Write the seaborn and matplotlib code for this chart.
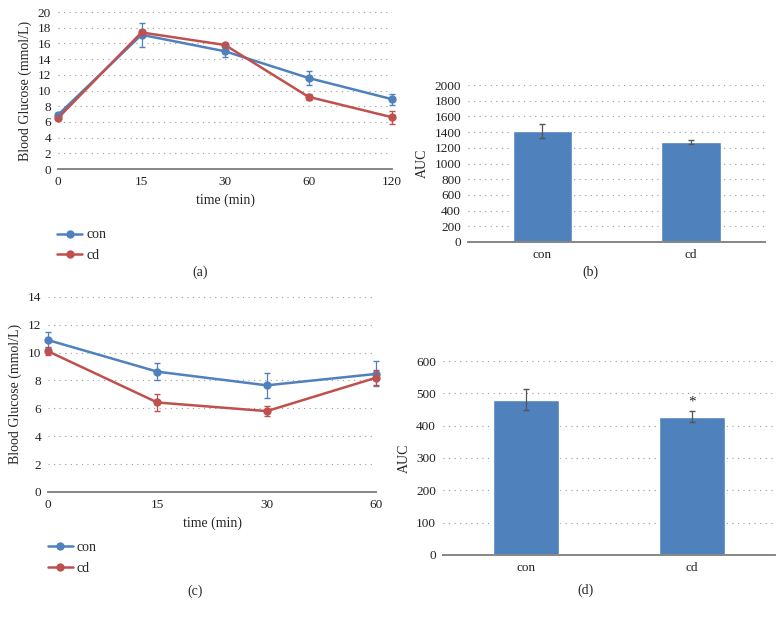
import matplotlib
matplotlib.use('Agg')
import matplotlib.pyplot as plt
import seaborn as sns
import pandas as pd

# data
ogtt_time = ['0', '15', '30', '60', '120']
ogtt_con = [6.9, 17.1, 15.0, 11.6, 8.9]
ogtt_con_err = [0.3, 1.5, 0.7, 0.9, 0.7]
ogtt_cd = [6.5, 17.4, 15.8, 9.2, 6.6]
ogtt_cd_err = [0.3, 0.3, 0.3, 0.4, 0.8]

itt_time = ['0', '15', '30', '60']
itt_con = [10.9, 8.63, 7.65, 8.47]
itt_con_err = [0.6, 0.6, 0.9, 0.9]
itt_cd = [10.1, 6.42, 5.8, 8.2]
itt_cd_err = [0.3, 0.6, 0.35, 0.55]

groups = ['con', 'cd']
auc_ogtt = [1415, 1271]
auc_ogtt_err = [90, 25]
auc_itt = [480, 427]
auc_itt_err = [33, 17]

BLUE = '#4F81BD'
RED = '#C0504D'
AXIS_GRAY = '#868686'

sns.set_theme(style='white')
plt.rcParams['font.family'] = ['Liberation Serif', 'DejaVu Serif']
plt.rcParams['font.size'] = 9.5

fig = plt.figure(figsize=(7.84, 6.17), dpi=100)


def style_axes(ax, ymax, ystep):
    for s in ['top', 'right', 'left']:
        ax.spines[s].set_visible(False)
    ax.spines['bottom'].set_color(AXIS_GRAY)
    ax.spines['bottom'].set_linewidth(1.4)
    ax.set_ylim(0, ymax)
    ax.set_yticks(range(0, ymax + 1, ystep))
    ax.yaxis.grid(True, color='#9a9a9a', linestyle=(0, (1, 4)), linewidth=0.8)
    ax.set_axisbelow(True)
    ax.tick_params(axis='both', length=0, labelsize=9.5, colors='#222222', pad=5)


def line_panel(rect, times, con, con_err, cd, cd_err, ymax, ystep, legend_xy):
    ax = fig.add_axes(rect)
    df = pd.DataFrame({'time': times * 2,
                       'glucose': con + cd,
                       'group': ['con'] * len(times) + ['cd'] * len(times)})
    sns.lineplot(data=df, x='time', y='glucose', hue='group', sort=False,
                 palette={'con': BLUE, 'cd': RED}, marker='o', markersize=6,
                 markeredgewidth=0, linewidth=1.8, ax=ax)
    pos = range(len(times))
    e1 = ax.errorbar(pos, con, yerr=con_err, fmt='none', ecolor=BLUE, elinewidth=0.9, capsize=2.5)
    e2 = ax.errorbar(pos, cd, yerr=cd_err, fmt='none', ecolor=RED, elinewidth=0.9, capsize=2.5)
    for ln in ax.lines:
        ln.set_clip_on(False)
    for eb in (e1, e2):
        for part in eb.lines[1] + eb.lines[2]:
            part.set_clip_on(False)
    style_axes(ax, ymax, ystep)
    ax.set_xlim(0, len(times) - 1)
    ax.set_xlabel('time (min)', fontsize=10)
    ax.set_ylabel('Blood Glucose (mmol/L)', fontsize=10)
    h, l = ax.get_legend_handles_labels()
    ax.legend(h, l, loc='upper left', bbox_to_anchor=legend_xy, bbox_transform=fig.transFigure,
              frameon=False, fontsize=10, handlelength=1.8, handletextpad=0.3, labelspacing=0.55)
    return ax


def bar_panel(rect, values, errs, ymax, ystep):
    ax = fig.add_axes(rect)
    sns.barplot(x=groups, y=values, color=BLUE, saturation=1, width=0.4, ax=ax)
    centers = [p.get_x() + p.get_width() / 2 for p in ax.patches]
    ax.errorbar(centers, values, yerr=errs, fmt='none', ecolor='#555555', elinewidth=0.9, capsize=2.5)
    style_axes(ax, ymax, ystep)
    ax.set_xlim(-0.5, len(groups) - 0.5)
    ax.set_ylabel('AUC', fontsize=10)
    return ax, centers


# (a)
ax_a = line_panel([0.074, 0.726, 0.426, 0.2545], ogtt_time, ogtt_con, ogtt_con_err,
                  ogtt_cd, ogtt_cd_err, 20, 2, (0.057, 0.65))
ax_a.yaxis.labelpad = 4

# (b)
ax_b, _ = bar_panel([0.597, 0.608, 0.379, 0.254], auc_ogtt, auc_ogtt_err, 2000, 200)

# (c)
ax_c = line_panel([0.061, 0.2026, 0.419, 0.3164], itt_time, itt_con, itt_con_err,
                  itt_cd, itt_cd_err, 14, 2, (0.045, 0.143))

# (d)
ax_d, centers_d = bar_panel([0.565, 0.1005, 0.4235, 0.3144], auc_itt, auc_itt_err, 600, 100)
ax_d.text(centers_d[1], auc_itt[1] + auc_itt_err[1] + 8, '*', ha='center', va='bottom', fontsize=11)

for label, x, y in [('(a)', 0.255, 0.558), ('(b)', 0.753, 0.558),
                    ('(c)', 0.249, 0.041), ('(d)', 0.747, 0.044)]:
    fig.text(x, y, label, ha='center', va='center', fontsize=10)

fig.savefig('out.png', dpi=100)
